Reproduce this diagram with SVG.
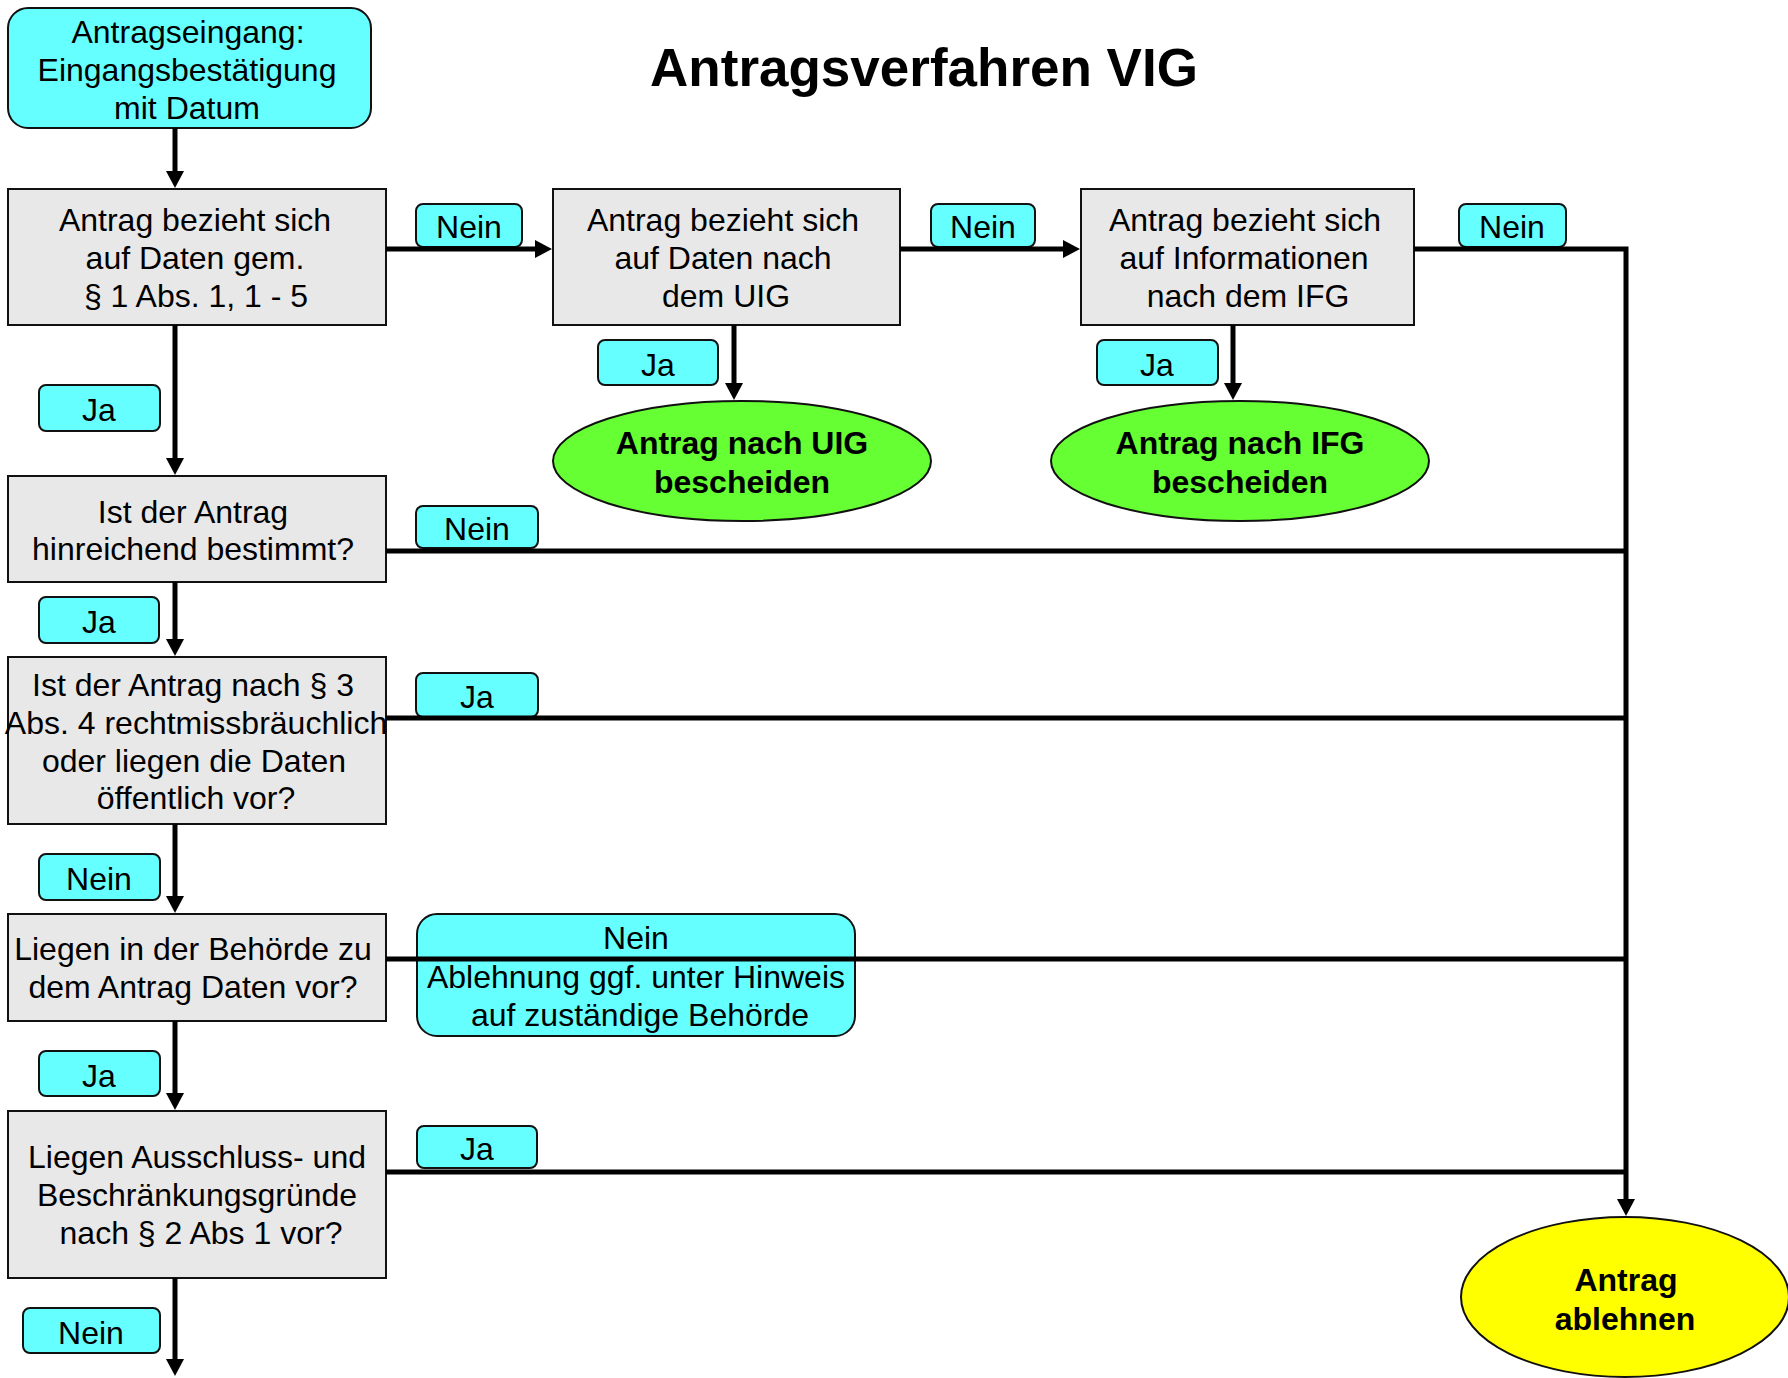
<svg xmlns="http://www.w3.org/2000/svg" width="1788" height="1378" viewBox="0 0 1788 1378">
<style>
text{font-family:"Liberation Sans",Arial,sans-serif;font-size:32px;fill:#000;text-anchor:middle}
.title{font-size:53px;font-weight:bold}
.b{font-weight:bold}
.box{fill:#E8E8E8;stroke:#111;stroke-width:2}
.cyan{fill:#66FFFF;stroke:#111;stroke-width:2}
.green{fill:#66FF33;stroke:#111;stroke-width:2}
.yellow{fill:#FFFF00;stroke:#111;stroke-width:2}
.con{fill:none;stroke:#000;stroke-width:5;stroke-linejoin:miter}
.arr{marker-end:url(#ah)}
</style>
<defs>
<marker id="ah" markerUnits="userSpaceOnUse" markerWidth="17" markerHeight="18" refX="1" refY="9" orient="auto" viewBox="0 0 17 18">
<path d="M0,0 L17,9 L0,18 Z" fill="#000"/>
</marker>
</defs>
<rect width="1788" height="1378" fill="#fff"/>
<text class="title" x="924" y="86">Antragsverfahren VIG</text>

<g id="n-eingang">
<rect class="cyan" x="8" y="8" width="363" height="120" rx="20"/>
<text x="188" y="43">Antragseingang:</text>
<text x="187" y="81">Eingangsbestätigung</text>
<text x="187" y="119">mit Datum</text>
</g>
<g id="n-daten">
<rect class="box" x="8" y="189" width="378" height="136"/>
<text x="195" y="231">Antrag bezieht sich</text>
<text x="195" y="269">auf Daten gem.</text>
<text x="196" y="307">§ 1 Abs. 1, 1 - 5</text>
</g>
<g id="n-uig">
<rect class="box" x="553" y="189" width="347" height="136"/>
<text x="723" y="231">Antrag bezieht sich</text>
<text x="723" y="269">auf Daten nach</text>
<text x="726" y="307">dem UIG</text>
</g>
<g id="n-ifg">
<rect class="box" x="1081" y="189" width="333" height="136"/>
<text x="1245" y="231">Antrag bezieht sich</text>
<text x="1244" y="269">auf Informationen</text>
<text x="1248" y="307">nach dem IFG</text>
</g>
<g id="n-uig-bescheid">
<ellipse class="green" cx="742" cy="461" rx="189" ry="60"/>
<text class="b" x="742" y="454">Antrag nach UIG</text>
<text class="b" x="742" y="493">bescheiden</text>
</g>
<g id="n-ifg-bescheid">
<ellipse class="green" cx="1240" cy="461" rx="189" ry="60"/>
<text class="b" x="1240" y="454">Antrag nach IFG</text>
<text class="b" x="1240" y="493">bescheiden</text>
</g>
<g id="n-bestimmt">
<rect class="box" x="8" y="476" width="378" height="106"/>
<text x="193" y="523">Ist der Antrag</text>
<text x="193" y="560">hinreichend bestimmt?</text>
</g>
<g id="n-missbrauch">
<rect class="box" x="8" y="657" width="378" height="167"/>
<text x="193" y="696">Ist der Antrag nach § 3</text>
<text x="196" y="734">Abs. 4 rechtmissbräuchlich</text>
<text x="194" y="772">oder liegen die Daten</text>
<text x="196" y="809">öffentlich vor?</text>
</g>
<g id="n-behoerde">
<rect class="box" x="8" y="914" width="378" height="107"/>
<text x="193" y="960">Liegen in der Behörde zu</text>
<text x="193" y="998">dem Antrag Daten vor?</text>
</g>
<g id="n-ausschluss">
<rect class="box" x="8" y="1111" width="378" height="167"/>
<text x="197" y="1168">Liegen Ausschluss- und</text>
<text x="197" y="1206">Beschränkungsgründe</text>
<text x="201" y="1244">nach § 2 Abs 1 vor?</text>
</g>
<g id="n-ablehnen">
<ellipse class="yellow" cx="1625" cy="1297" rx="164" ry="80"/>
<text class="b" x="1626" y="1291">Antrag</text>
<text class="b" x="1625" y="1330">ablehnen</text>
</g>

<g id="labels">
<rect class="cyan" x="416" y="204" width="106" height="43" rx="7"/>
<text x="469" y="238">Nein</text>
<rect class="cyan" x="931" y="204" width="104" height="43" rx="7"/>
<text x="983" y="238">Nein</text>
<rect class="cyan" x="1459" y="204" width="107" height="43" rx="7"/>
<text x="1512" y="238">Nein</text>
<rect class="cyan" x="598" y="340" width="120" height="45" rx="7"/>
<text x="658" y="376">Ja</text>
<rect class="cyan" x="1097" y="340" width="121" height="45" rx="7"/>
<text x="1157" y="376">Ja</text>
<rect class="cyan" x="39" y="385" width="121" height="46" rx="7"/>
<text x="99" y="421">Ja</text>
<rect class="cyan" x="416" y="506" width="122" height="42" rx="7"/>
<text x="477" y="540">Nein</text>
<rect class="cyan" x="39" y="597" width="120" height="46" rx="7"/>
<text x="99" y="633">Ja</text>
<rect class="cyan" x="416" y="673" width="122" height="44" rx="7"/>
<text x="477" y="708">Ja</text>
<rect class="cyan" x="39" y="854" width="121" height="46" rx="7"/>
<text x="99" y="890">Nein</text>
<rect class="cyan" x="417" y="914" width="438" height="122" rx="20"/>
<text x="636" y="949">Nein</text>
<text x="636" y="988">Ablehnung ggf. unter Hinweis</text>
<text x="640" y="1026">auf zuständige Behörde</text>
<rect class="cyan" x="39" y="1051" width="121" height="45" rx="7"/>
<text x="99" y="1087">Ja</text>
<rect class="cyan" x="417" y="1126" width="120" height="42" rx="7"/>
<text x="477" y="1160">Ja</text>
<rect class="cyan" x="23" y="1308" width="137" height="45" rx="7"/>
<text x="91" y="1344">Nein</text>
</g>

<g id="connectors">
<path class="con arr" d="M175,128 V172"/>
<path class="con arr" d="M386,249 H536"/>
<path class="con arr" d="M900,249 H1064"/>
<path class="con arr" d="M1414,249 H1626 V1200"/>
<path class="con arr" d="M734,325 V384"/>
<path class="con arr" d="M1233,325 V384"/>
<path class="con arr" d="M175,325 V459"/>
<path class="con" d="M386,551 H1628"/>
<path class="con arr" d="M175,582 V640"/>
<path class="con" d="M386,718 H1628"/>
<path class="con arr" d="M175,824 V897"/>
<path class="con" d="M386,959 H1628"/>
<path class="con arr" d="M175,1021 V1094"/>
<path class="con" d="M386,1172 H1628"/>
<path class="con arr" d="M175,1278 V1360"/>
</g>
</svg>
